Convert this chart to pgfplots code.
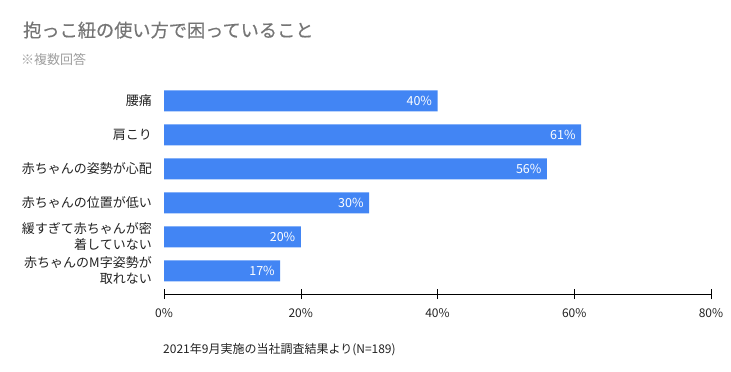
\documentclass[border=0pt]{standalone}
\usepackage{fontspec}
\setmainfont{Noto Sans CJK JP}
\newfontfamily\titlefont[FakeBold=0.5]{Noto Sans CJK JP}
\usepackage{pgfplots}
\pgfplotsset{compat=1.18}
\definecolor{barblue}{HTML}{4285F4}
\definecolor{titlegray}{HTML}{757575}
\definecolor{subgray}{HTML}{9E9E9E}
\definecolor{labelc}{HTML}{222222}
\begin{document}
\begin{tikzpicture}[x=1bp,y=1bp]
\useasboundingbox (0,0) rectangle (731,371);
\node[anchor=base west, inner sep=0pt, text=titlegray, font=\titlefont\fontsize{18.2bp}{20bp}\selectfont] at (23,334) {抱っこ紐の使い方で困っていること};
\node[anchor=base west, inner sep=0pt, text=subgray, font=\fontsize{13bp}{15bp}\selectfont] at (21,307) {※複数回答};
\node[anchor=base west, inner sep=0pt, text=labelc, font=\fontsize{12bp}{14bp}\selectfont] at (163,18) {2021年9月実施の当社調査結果より(N=189)};
\begin{axis}[
  at={(164bp,77bp)}, anchor=south west,
  scale only axis, width=547bp, height=210bp,
  xmin=0, xmax=80, ymin=-0.68, ymax=5.5,
  xbar, bar width=21bp,
  axis x line*=bottom, axis y line*=left,
  x axis line style={-, black},
  y axis line style={draw=none},
  ytick style={draw=none},
  xtick style={black},
  tick align=center, major tick length=10bp,
  xtick={0,20,40,60,80},
  xticklabel={\pgfmathprintnumber{\tick}\%},
  /pgf/number format/assume math mode=true,
  xticklabel style={font=\fontsize{12bp}{14bp}\selectfont, text=labelc, yshift=-6bp},
  ytick={0,1,2,3,4,5},
  yticklabels={{赤ちゃんのM字姿勢が\\取れない},{緩すぎて赤ちゃんが密\\着していない},赤ちゃんの位置が低い,赤ちゃんの姿勢が心配,肩こり,腰痛},
  yticklabel style={align=right, font=\fontsize{13bp}{16bp}\selectfont, text=labelc, inner sep=0pt, xshift=-7bp},
  nodes near coords={\pgfmathprintnumber{\pgfplotspointmeta}\%},
  every node near coord/.append style={anchor=east, text=white, font=\fontsize{12.5bp}{14bp}\selectfont, xshift=-2bp, /pgf/number format/assume math mode=true},
]
\addplot[fill=barblue, draw=none] coordinates {(17,0) (20,1) (30,2) (56,3) (61,4) (40,5)};
\end{axis}
\end{tikzpicture}
\end{document}
